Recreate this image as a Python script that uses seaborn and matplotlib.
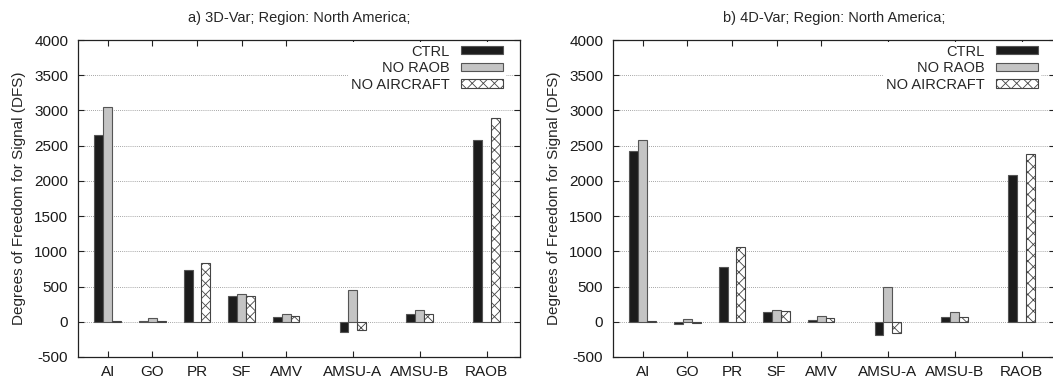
import numpy as np
import pandas as pd
import seaborn as sns
import matplotlib
matplotlib.use("Agg")
import matplotlib.pyplot as plt

categories = ["AI", "GO", "PR", "SF", "AMV", "AMSU-A", "AMSU-B", "RAOB"]
positions = [1, 2, 3, 4, 5, 6.5, 8, 9.5]
series = ["CTRL", "NO RAOB", "NO AIRCRAFT"]

var3d_ctrl = [2650, 5, 735, 360, 70, -150, 108, 2580]
var3d_noraob = [3050, 50, 0, 392, 113, 450, 165, 0]
var3d_noaircraft = [5, 15, 840, 373, 75, -118, 113, 2890]

var4d_ctrl = [2420, -33, 783, 132, 28, -193, 61, 2080]
var4d_noraob = [2585, 38, 0, 170, 85, 495, 132, 0]
var4d_noaircraft = [5, -20, 1061, 151, 52, -160, 66, 2382]

titles = ["a) 3D-Var; Region: North America;", "b) 4D-Var; Region: North America;"]
ylabel = "Degrees of Freedom for Signal (DFS)"
yticks = [-500, 0, 500, 1000, 1500, 2000, 2500, 3000, 3500, 4000]

sns.set_theme(style="ticks")
plt.rcParams["font.family"] = ["Liberation Sans", "DejaVu Sans"]
plt.rcParams["hatch.linewidth"] = 0.6

def make_df(ctrl, noraob, noair):
    rows = []
    for s, vals in zip(series, [ctrl, noraob, noair]):
        for p, v in zip(positions, vals):
            rows.append({"pos": p, "val": v, "series": s})
    return pd.DataFrame(rows)

dfs = [make_df(var3d_ctrl, var3d_noraob, var3d_noaircraft),
       make_df(var4d_ctrl, var4d_noraob, var4d_noaircraft)]

W, H = 1053, 379
fig = plt.figure(figsize=(W / 100, H / 100), dpi=100)
axes_px = [(78, 40, 442, 317), (613, 40, 442, 317)]
palette = {"CTRL": "#1c1c1c", "NO RAOB": "#c4c4c4", "NO AIRCRAFT": "#ffffff"}

for i, (df, (x0, y0, w, h)) in enumerate(zip(dfs, axes_px)):
    ax = fig.add_axes([x0 / W, 1 - (y0 + h) / H, w / W, h / H])
    sns.barplot(data=df, x="pos", y="val", hue="series", hue_order=series,
                native_scale=True, width=0.6, palette=palette, dodge=True,
                edgecolor="#555555", linewidth=0.8, legend=False, ax=ax,
                errorbar=None, saturation=1)
    for patch in ax.containers[2]:
        patch.set_hatch("xxx")
        patch.set_edgecolor("#444444")
    ax.set_xlim(0.33, 10.25)
    ax.set_ylim(-500, 4000)
    ax.set_yticks(yticks)
    ax.set_yticklabels([str(t) for t in yticks], fontsize=11)
    ax.set_xticks(positions)
    ax.set_xticklabels(categories, fontsize=11)
    ax.set_xlabel("")
    ax.set_ylabel(ylabel, fontsize=11, labelpad=6)
    ax.set_title(titles[i], fontsize=10.5, pad=13)
    ax.yaxis.grid(True, linestyle=(0, (1, 1.5)), color="#888888", linewidth=0.6)
    ax.set_axisbelow(True)
    ax.tick_params(direction="in", top=True, right=True, length=4, width=0.8,
                   colors="#222222", labelcolor="#1a1a1a")
    ax.tick_params(axis="y", pad=7)
    ax.tick_params(axis="x", pad=6)
    for sp in ax.spines.values():
        sp.set_linewidth(0.9)
        sp.set_color("#222222")
    handles = [ax.containers[k].patches[0] for k in range(3)]
    leg = ax.legend(handles, series, loc="upper right", markerfirst=False,
                    bbox_to_anchor=(0.968, 0.995),
                    fontsize=10.5, handlelength=2.9, handleheight=0.5,
                    labelspacing=0.18, borderaxespad=0.0, frameon=True,
                    fancybox=False, borderpad=0.2, handletextpad=0.75)
    leg.get_frame().set_facecolor("white")
    leg.get_frame().set_edgecolor("none")
    leg.get_frame().set_alpha(1)

fig.savefig("out.png", dpi=100)
